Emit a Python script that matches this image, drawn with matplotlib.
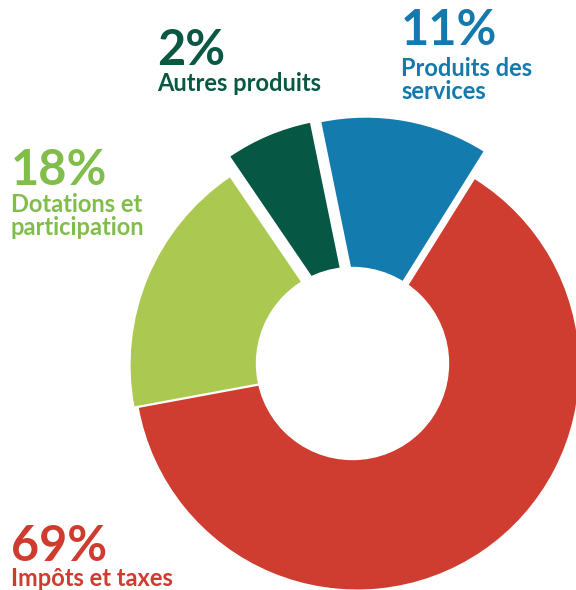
import matplotlib.pyplot as plt
from matplotlib.patches import Circle

# libellés et pourcentages affichés
categories = ["Produits des\nservices", "Autres produits",
              "Dotations et\nparticipation", "Impôts et taxes"]
pct_labels = [11, 2, 18, 69]
# part d'angle réellement dessinée pour chaque secteur (en %)
wedge_shares = [12.1, 6.3, 18.4, 63.2]

colors = ["#137BAE", "#065844", "#ABC951", "#CF3C30"]
text_colors = ["#1479AD", "#0A5843", "#80BD4B", "#CF3B2E"]

# décalage (px) et rayon de chaque secteur
offsets = [(8.75, 27.8), (-3.0, 29.1), (0.5, 2.4), (0.0, 0.0)]
radii = [222, 220, 227, 222]

# position des textes : x, ligne de base du %, ligne de base du libellé (px depuis le haut)
text_pos = [(401, 45, 76), (157, 65, 91), (11, 185, 212), (11, 561, 586)]
line_step = 23

W, H = 576, 590
fig = plt.figure(figsize=(W / 100, H / 100), dpi=100)
ax = fig.add_axes([0, 0, 1, 1])

cx, cy = 357.1, H - 367.5
wedges, _ = ax.pie(wedge_shares, colors=colors, startangle=58, counterclock=True,
                   radius=222, center=(cx, cy), frame=True,
                   wedgeprops=dict(linewidth=0))
for w, (dx, dy), r in zip(wedges, offsets, radii):
    w.set_center((cx + dx, cy + dy))
    w.set_radius(r)

# trou central
ax.add_patch(Circle((352.5, H - 363.5), 96, color="white", zorder=3))

ax.set_xlim(0, W)
ax.set_ylim(0, H)
ax.set_aspect("equal")
ax.axis("off")

font = ["Lato", "DejaVu Sans"]
for lab, p, col, (x, yb_pct, yb_lab) in zip(categories, pct_labels, text_colors, text_pos):
    ax.text(x, H - yb_pct, f"{p}%", color=col, fontsize=35, fontweight="bold",
            family=font, ha="left", va="baseline")
    for i, line in enumerate(lab.split("\n")):
        ax.text(x, H - (yb_lab + i * line_step), line, color=col, fontsize=17,
                fontweight="bold", family=font, ha="left", va="baseline")

fig.savefig("out.png", dpi=100)
